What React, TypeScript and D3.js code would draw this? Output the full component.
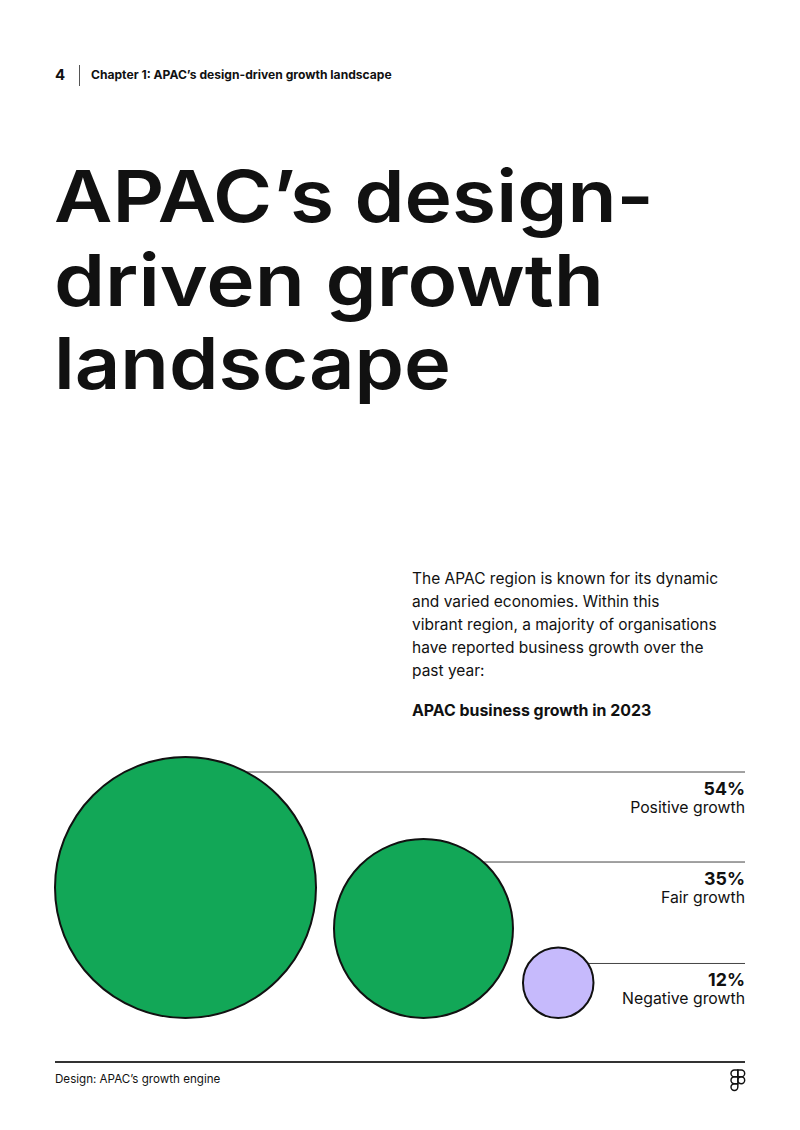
import React from 'react';
import * as d3 from 'd3';

// chart data
const categories = ['Positive growth', 'Fair growth', 'Negative growth'];
const shares = [54, 35, 12];
const fills = ['#12a757', '#12a757', '#c6bafc'];

const titleLines = ['APAC\u2019s design-', 'driven growth', 'landscape'];
const titleWidths = [600, 550, 397];
const introLines = [
    'The APAC region is known for its dynamic',
    'and varied economies. Within this',
    'vibrant region, a majority of organisations',
    'have reported business growth over the',
    'past year:',
];

const W = 800;
const H = 1130;
const FONT = 'Inter, "Noto Sans", sans-serif';
const INK = '#111';

// layout of the bubble row
const rowLeft = 55;
const rowBottom = 1018;
const rowRight = 745;
const gaps = [18, 10];
const leaderDy = [15, 23, 16];

function FigmaMark({x, y}: {x: number; y: number}) {
    const paths = [
        'M19 28.5a9.5 9.5 0 1 1 19 0 9.5 9.5 0 0 1-19 0z',
        'M0 47.5A9.5 9.5 0 0 1 9.5 38H19v9.5a9.5 9.5 0 1 1-19 0z',
        'M19 0v19h9.5a9.5 9.5 0 1 0 0-19H19z',
        'M0 9.5A9.5 9.5 0 0 0 9.5 19H19V0H9.5A9.5 9.5 0 0 0 0 9.5z',
        'M0 28.5A9.5 9.5 0 0 0 9.5 38H19V19H9.5A9.5 9.5 0 0 0 0 28.5z',
    ];
    return (
        <g transform={`translate(${x},${y}) scale(0.36)`}>
            {paths.map((d, i) => (
                <path key={i} d={d} fill="none" stroke={INK} strokeWidth={4} />
            ))}
        </g>
    );
}

export default function App() {
    const r = d3.scalePow().exponent(0.87).domain([0, 54]).range([0, 130.5]);

    // cumulative x positions of the bubbles, bottom aligned
    let cursor = rowLeft;
    const bubbles = shares.map((v, i) => {
        const rad = r(v);
        const cx = cursor + rad;
        cursor = cx + rad + (gaps[i] || 0);
        const cy = rowBottom - rad;
        const ly = cy - rad + leaderDy[i];
        const lx = cx + Math.sqrt(Math.max(0, rad * rad - (cy - ly) * (cy - ly)));
        return {v, rad, cx, cy, ly, lx, label: categories[i], fill: fills[i]};
    });

    return (
        <div style={{position: 'absolute', left: 0, top: 0}}>
            <svg width={W} height={H} viewBox={`0 0 ${W} ${H}`} style={{display: 'block', background: '#fff'}}>
                {/* header */}
                <text x={55} y={80} fontFamily={FONT} fontSize={15} fontWeight={700} fill={INK}>4</text>
                <line x1={79.5} x2={79.5} y1={65} y2={86} stroke="#555" strokeWidth={1} />
                <text x={91} y={79} fontFamily={FONT} fontSize={12.1} fontWeight={700} fill={INK}>
                    Chapter 1: APAC’s design-driven growth landscape
                </text>

                {/* title */}
                {titleLines.map((t, i) => (
                    <text key={t} x={54} y={222 + i * 83.5} fontFamily={FONT} fontSize={72}
                          fontWeight={600} textLength={titleWidths[i]} lengthAdjust="spacingAndGlyphs"
                          fill={INK}>{t}</text>
                ))}

                {/* intro */}
                {introLines.map((t, i) => (
                    <text key={t} x={412} y={584 + i * 23} fontFamily={FONT} fontSize={15.5}
                          fill={INK}>{t}</text>
                ))}
                <text x={412} y={716} fontFamily={FONT} fontSize={15.9} fontWeight={700} fill={INK}>
                    APAC business growth in 2023
                </text>

                {/* leader lines */}
                {bubbles.map(b => (
                    <line key={'l' + b.label} x1={b.lx} x2={rowRight} y1={b.ly} y2={b.ly}
                          stroke="#444" strokeWidth={1} />
                ))}

                {/* bubbles */}
                {bubbles.map(b => (
                    <circle key={b.label} cx={b.cx} cy={b.cy} r={b.rad} fill={b.fill}
                            stroke={INK} strokeWidth={2} />
                ))}

                {/* labels */}
                {bubbles.map(b => (
                    <g key={'t' + b.label} fontFamily={FONT} fill={INK} textAnchor="end">
                        <text x={rowRight} y={b.ly + 23} fontSize={17.8} fontWeight={700}>
                            {d3.format('d')(b.v)}%
                        </text>
                        <text x={rowRight} y={b.ly + 41} fontSize={15.8}>{b.label}</text>
                    </g>
                ))}

                {/* footer */}
                <line x1={55} x2={745} y1={1062} y2={1062} stroke="#333" strokeWidth={2} />
                <text x={55} y={1083} fontFamily={FONT} fontSize={11.6} fill={INK}>
                    Design: APAC’s growth engine
                </text>
                <FigmaMark x={731} y={1070} />
            </svg>
        </div>
    );
}
